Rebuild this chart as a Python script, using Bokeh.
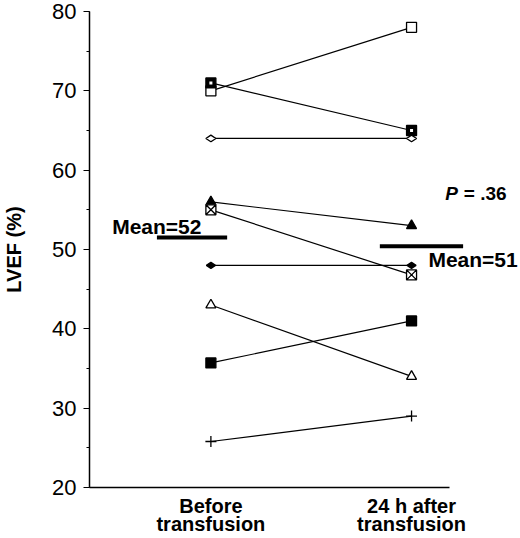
import numpy as np
from bokeh.core.properties import value
from bokeh.embed import file_html
from bokeh.models import Range1d, SingleIntervalTicker, FixedTicker
from bokeh.plotting import figure
from bokeh.resources import INLINE

# x positions of the two time points and their labels
group_x = [1, 2]
group_labels = ["Before\ntransfusion", "24 h after\ntransfusion"]

# LVEF (%) per patient, before and 24 h after transfusion
before = [70, 71, 64, 56, 55, 48, 43, 35.7, 25.8]
after = [78, 65, 64, 53, 46.8, 48, 34, 41, 29]
markers = ["square", "square", "diamond", "triangle", "square_x",
           "diamond", "triangle", "square", "cross"]
filled = [False, True, False, True, False, True, False, True, False]
dotted = [False, True, False, False, False, False, False, False, False]

# group means (bar level) and their labels
mean_level = [51.5, 50.4]
mean_labels = ["Mean=52", "Mean=51"]
p_text = "= .36"

FONT = value("Liberation Sans")

p = figure(width=520, height=538, output_backend="svg", toolbar_location=None,
           tools="", x_range=Range1d(0.395, 2.543), y_range=Range1d(20, 80),
           min_border_left=85, min_border_right=0, min_border_top=11,
           min_border_bottom=51)
p.outline_line_color = None
p.grid.grid_line_color = None
p.background_fill_color = "white"

# connecting lines and markers
for b, a, m, f, d in zip(before, after, markers, filled, dotted):
    p.line(group_x, [b, a], line_color="black", line_width=1.2)
    size = 10
    angle = 0
    if m == "diamond":
        angle = np.pi / 2
        size = 10 if not f else 9
    if m == "cross":
        size = 11
    p.scatter(group_x, [b, a], marker=m, size=size, angle=angle,
              fill_color="black" if f else "white", line_color="black",
              line_width=1.3)
    if d:
        p.scatter(group_x, [b, a], marker="square", size=3,
                  fill_color="white", line_color=None)

# mean bars
mean_x0 = [0.731, 1.842]
mean_x1 = [1.081, 2.257]
p.segment(x0=mean_x0, y0=mean_level, x1=mean_x1, y1=mean_level,
          line_color="black", line_width=4)

p.text(x=[0.953], y=[52.9], text=[mean_labels[0]], text_font=FONT,
       text_font_style="bold", text_font_size="21px", text_align="right",
       text_baseline="alphabetic", text_color="black")
p.text(x=[2.084], y=[48.8], text=[mean_labels[1]], text_font=FONT,
       text_font_style="bold", text_font_size="21px", text_align="left",
       text_baseline="alphabetic", text_color="black")

# P value
p.text(x=[2.168], y=[57.1], text=["P"], text_font=FONT,
       text_font_style="bold italic", text_font_size="19px", text_align="left",
       text_baseline="alphabetic", text_color="black")
p.text(x=[2.474], y=[57.1], text=[p_text], text_font=FONT,
       text_font_style="bold", text_font_size="19px", text_align="right",
       text_baseline="alphabetic", text_color="black")

# y axis
ya = p.yaxis[0]
ya.ticker = SingleIntervalTicker(interval=10, num_minor_ticks=2)
ya.axis_label = "LVEF (%)"
ya.axis_label_text_font = "Liberation Sans"
ya.axis_label_text_font_style = "bold"
ya.axis_label_text_font_size = "20px"
ya.axis_label_text_color = "black"
ya.axis_label_standoff = 24
ya.major_label_text_font = "Liberation Sans"
ya.major_label_text_font_size = "22px"
ya.major_label_text_color = "black"
ya.major_label_standoff = 7
ya.major_tick_out = 6
ya.major_tick_in = 0
ya.minor_tick_out = 3
ya.minor_tick_in = 0
ya.axis_line_width = 1.5
ya.major_tick_line_width = 1.2
ya.axis_line_color = "black"

# x axis
xa = p.xaxis[0]
xa.ticker = FixedTicker(ticks=group_x)
xa.major_label_overrides = {group_x[0]: group_labels[0], group_x[1]: group_labels[1]}
xa.major_label_text_font = "Liberation Sans"
xa.major_label_text_font_style = "bold"
xa.major_label_text_font_size = "20px"
xa.major_label_text_line_height = 0.85
xa.major_label_text_color = "black"
xa.major_label_standoff = 7
xa.major_tick_out = 0
xa.major_tick_in = 0
xa.minor_tick_out = 0
xa.minor_tick_in = 0
xa.axis_line_width = 1.5
xa.axis_line_color = "black"
xa.bounds = (0.395, 2.188)

open("out.html", "w").write(file_html(p, INLINE))
